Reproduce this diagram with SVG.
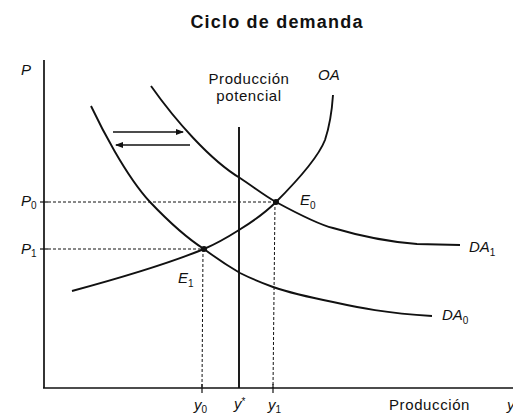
<svg xmlns="http://www.w3.org/2000/svg" width="513" height="415" viewBox="0 0 513 415">
<style>
text{font-family:"Liberation Sans",Arial,sans-serif;fill:#111}
.it{font-style:italic;font-size:15px}
.sub{font-size:10px;font-style:normal}
.lbl{font-size:15px;letter-spacing:0.6px}
.curve{fill:none;stroke:#111;stroke-width:1.9}
.axis{fill:none;stroke:#111;stroke-width:1.7}
.dash{fill:none;stroke:#111;stroke-width:1;stroke-dasharray:3,2}
.tick{stroke:#111;stroke-width:1.2}
</style>
<defs>
<marker id="ah" markerWidth="8" markerHeight="6" refX="7" refY="3" orient="auto" markerUnits="userSpaceOnUse">
<path d="M0,0 L8,3 L0,6 Z" fill="#111"/>
</marker>
</defs>
<rect width="513" height="415" fill="#fff"/>
<text x="277" y="28" text-anchor="middle" style="font-weight:bold;font-size:18px;letter-spacing:1.2px">Ciclo de demanda</text>
<g id="axes">
<line class="axis" x1="44" y1="60" x2="44" y2="388"/>
<line class="axis" x1="43" y1="388" x2="513" y2="388"/>
<line class="tick" x1="40" y1="202" x2="48" y2="202"/>
<line class="tick" x1="40" y1="249" x2="48" y2="249"/>
<line class="tick" x1="202" y1="384" x2="202" y2="393"/>
<line class="tick" x1="273" y1="384" x2="273" y2="393"/>
</g>
<g id="guides">
<line class="dash" x1="48" y1="202" x2="276" y2="202"/>
<line class="dash" x1="48" y1="249" x2="204" y2="249"/>
<line class="dash" x1="203" y1="249" x2="202" y2="388"/>
<line class="dash" x1="275" y1="202" x2="273" y2="388"/>
</g>
<g id="potencial">
<line class="curve" x1="239" y1="127" x2="239" y2="388"/>
<text class="lbl" x="249" y="84" text-anchor="middle">Producción</text>
<text class="lbl" x="249" y="101" text-anchor="middle">potencial</text>
</g>
<g id="OA">
<path class="curve" d="M72,291 C120,278 170,263 204,249 C218,243 228,237 239,230 C252,222 265,213 276,202 C295,183 318,158 325,140 C330,125 332,110 333,95"/>
<text class="it" x="318" y="80">OA</text>
</g>
<g id="DA1">
<path class="curve" d="M151,86 C175,120 210,160 240,178 C255,188 265,196 276,202 C300,215 320,225 333,228 C360,236 390,242 417,244 L460,245"/>
<text class="it" x="469" y="252">DA<tspan class="sub" dy="4">1</tspan></text>
</g>
<g id="DA0">
<path class="curve" d="M91,106 C100,125 125,175 150,202 C170,223 185,237 204,249 C216,258 228,266 240,273 C252,279 262,283 273,287 C293,294 313,298 333,302 C360,308 385,313 432,316"/>
<text class="it" x="442" y="320">DA<tspan class="sub" dy="4">0</tspan></text>
</g>
<g id="E0">
<circle cx="276" cy="202" r="3" fill="#111"/>
<text class="it" x="300" y="205">E<tspan class="sub" dy="4">0</tspan></text>
</g>
<g id="E1">
<circle cx="204" cy="249" r="3" fill="#111"/>
<text class="it" x="178" y="283">E<tspan class="sub" dy="4">1</tspan></text>
</g>
<g id="connectors">
<line x1="113" y1="132" x2="183" y2="132" stroke="#111" stroke-width="1.3" marker-end="url(#ah)"/>
<line x1="190" y1="145" x2="116" y2="145" stroke="#111" stroke-width="1.3" marker-end="url(#ah)"/>
</g>
<g id="labels">
<text class="it" x="21" y="75">P</text>
<text class="it" x="21" y="206">P<tspan class="sub" dy="3">0</tspan></text>
<text class="it" x="21" y="254">P<tspan class="sub" dy="3">1</tspan></text>
<text class="it" x="194" y="410">y<tspan class="sub" dy="3">0</tspan></text>
<text class="it" x="234" y="409">y<tspan class="sub" dy="-4">*</tspan></text>
<text class="it" x="268" y="410">y<tspan class="sub" dy="3">1</tspan></text>
<text class="lbl" x="389" y="410">Producción</text>
<text class="it" x="507" y="410">y</text>
</g>
</svg>
